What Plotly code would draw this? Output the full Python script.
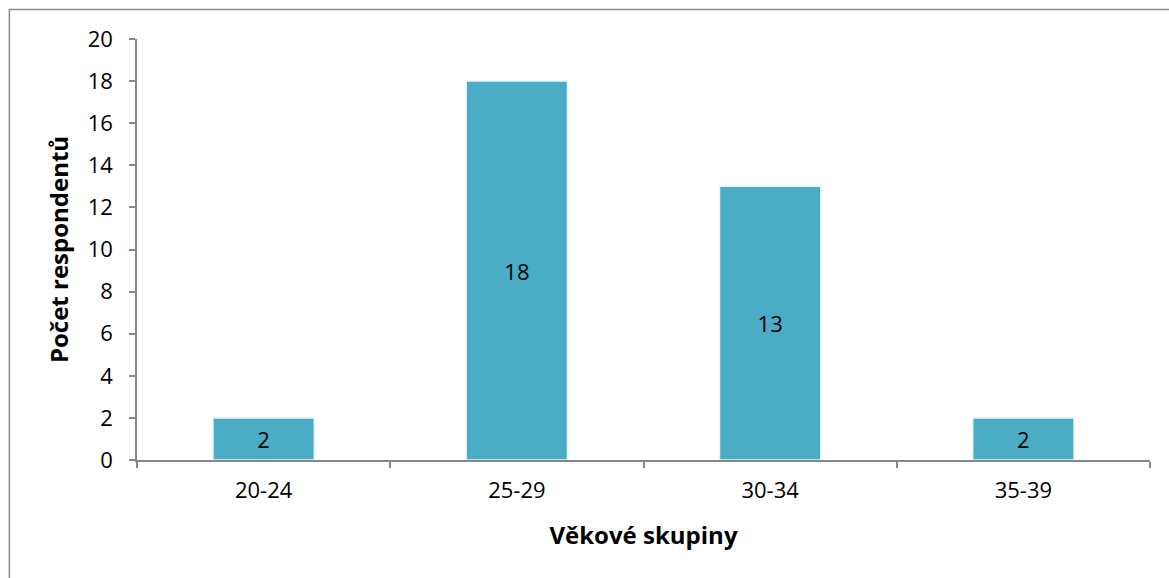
import plotly.graph_objects as go

categories = ["20-24", "25-29", "30-34", "35-39"]
counts = [2, 18, 13, 2]
y_ticks = list(range(0, 21, 2))

FONT = "'Open Sans', Lato, sans-serif"
AXIS_GRAY = "#868686"

fig = go.Figure(
    go.Bar(
        x=categories,
        y=counts,
        text=[str(v) for v in counts],
        textposition="inside",
        insidetextanchor="middle",
        textfont=dict(family=FONT, size=22, color="black"),
        marker=dict(color="#4BACC6", line=dict(color="#E8F4F8", width=1.5)),
        width=0.4,
        cliponaxis=False,
    )
)

fig.update_layout(
    width=1169,
    height=578,
    margin=dict(l=137, r=19, t=39, b=118),
    paper_bgcolor="white",
    plot_bgcolor="white",
    showlegend=False,
    font=dict(family=FONT, color="black"),
    xaxis=dict(
        type="category",
        tickson="boundaries",
        ticks="outside",
        ticklen=6,
        tickcolor=AXIS_GRAY,
        tickwidth=1.5,
        showline=True,
        linecolor=AXIS_GRAY,
        linewidth=1.5,
        showgrid=False,
        tickfont=dict(size=22),
        ticklabelstandoff=10,
        title=dict(text="<b>Věkové skupiny</b>", font=dict(size=24), standoff=24),
    ),
    yaxis=dict(
        range=[0, 20],
        tickvals=y_ticks,
        ticks="outside",
        ticklen=6,
        tickcolor=AXIS_GRAY,
        tickwidth=1.5,
        showline=True,
        linecolor=AXIS_GRAY,
        linewidth=1.5,
        showgrid=False,
        zeroline=False,
        tickfont=dict(size=22),
        ticklabelstandoff=12,
        title=dict(text="<b>Počet respondentů</b>", font=dict(size=24), standoff=12),
    ),
    shapes=[
        dict(
            type="rect", xref="paper", yref="paper",
            x0=-0.126, x1=1.05, y0=-0.40, y1=1.07,
            line=dict(color="#8C8C8C", width=1.5),
            layer="below",
        )
    ],
)

fig.write_html("out.html")
